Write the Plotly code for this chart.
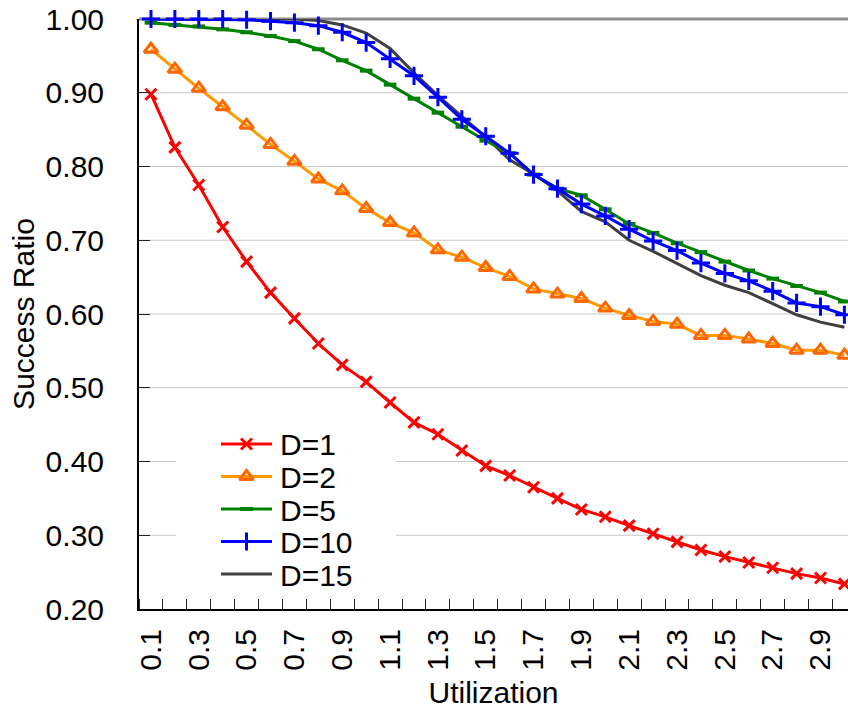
import plotly.graph_objects as go

# Utilization levels (x categories)
utilization = [0.1, 0.2, 0.3, 0.4, 0.5, 0.6, 0.7, 0.8, 0.9, 1.0,
               1.1, 1.2, 1.3, 1.4, 1.5, 1.6, 1.7, 1.8, 1.9, 2.0,
               2.1, 2.2, 2.3, 2.4, 2.5, 2.6, 2.7, 2.8, 2.9, 3.0]
x_tick_labels = ["0.1", "0.3", "0.5", "0.7", "0.9", "1.1", "1.3", "1.5",
                 "1.7", "1.9", "2.1", "2.3", "2.5", "2.7", "2.9"]
y_tick_values = [0.2, 0.3, 0.4, 0.5, 0.6, 0.7, 0.8, 0.9, 1.0]

# Success ratio for each D
ratio_d1 = [0.898, 0.826, 0.775, 0.718, 0.671, 0.629, 0.594, 0.560, 0.531, 0.508,
            0.480, 0.453, 0.437, 0.415, 0.394, 0.381, 0.365, 0.350, 0.335, 0.325,
            0.313, 0.302, 0.291, 0.280, 0.271, 0.263, 0.256, 0.248, 0.242, 0.234]
ratio_d2 = [0.959, 0.932, 0.906, 0.881, 0.856, 0.830, 0.807, 0.783, 0.767, 0.743,
            0.724, 0.710, 0.687, 0.677, 0.663, 0.651, 0.634, 0.627, 0.621, 0.608,
            0.598, 0.590, 0.586, 0.571, 0.571, 0.566, 0.560, 0.551, 0.551, 0.544]
ratio_d5 = [0.995, 0.992, 0.990, 0.986, 0.982, 0.977, 0.970, 0.959, 0.944, 0.930,
            0.911, 0.892, 0.873, 0.854, 0.835, 0.818, 0.789, 0.770, 0.761, 0.742,
            0.722, 0.710, 0.696, 0.684, 0.671, 0.659, 0.648, 0.638, 0.629, 0.617]
ratio_d10 = [1.000, 1.000, 1.000, 1.000, 0.999, 0.997, 0.995, 0.991, 0.982, 0.968,
             0.946, 0.923, 0.894, 0.864, 0.841, 0.818, 0.789, 0.770, 0.749, 0.733,
             0.715, 0.699, 0.686, 0.669, 0.655, 0.645, 0.631, 0.615, 0.610, 0.599]
ratio_d15 = [1.000, 1.000, 1.000, 1.000, 1.000, 1.000, 1.000, 0.998, 0.992, 0.981,
             0.960, 0.927, 0.896, 0.868, 0.840, 0.809, 0.790, 0.767, 0.739, 0.725,
             0.700, 0.685, 0.669, 0.652, 0.639, 0.629, 0.614, 0.599, 0.589, 0.582]

series_names = ["D=1", "D=2", "D=5", "D=10", "D=15"]
series_values = [ratio_d1, ratio_d2, ratio_d5, ratio_d10, ratio_d15]

FONT = "Liberation Sans, Arial, sans-serif"
styles = {
    "D=1": dict(line=dict(color="#FF0000", width=3),
                marker=dict(symbol="x-thin", size=11, color="#FF0000",
                            line=dict(color="#FF0000", width=3))),
    "D=2": dict(line=dict(color="#FF9900", width=3),
                marker=dict(symbol="triangle-up-open", size=12, color="#FF6600",
                            line=dict(color="#FF6600", width=3))),
    "D=5": dict(line=dict(color="#008000", width=3),
                marker=dict(symbol="line-ew", size=9, color="#008000",
                            line=dict(color="#008000", width=4))),
    "D=10": dict(line=dict(color="#0000FF", width=3),
                 marker=dict(symbol="cross-thin", size=13, color="#0000FF",
                             line=dict(color="#0000FF", width=3))),
    "D=15": dict(line=dict(color="#404040", width=3), marker=None),
}

# plot area in pixels (left, right, top, bottom)
PL, PR, PT, PB = 139, 848, 19, 609


def fx(px):
    """pixel x -> fraction of the plot area width"""
    return (px - PL) / (PR - PL)


def fy(py):
    """pixel y -> fraction of the plot area height (from bottom)"""
    return (PB - py) / (PB - PT)


fig = go.Figure()

# dark D=15 curve underneath, the marked series on top
draw_order = [4, 0, 1, 2, 3]
for i in draw_order:
    name = series_names[i]
    st = styles[name]
    kw = dict(x=utilization, y=series_values[i], name=name, showlegend=False,
              line=st["line"], cliponaxis=False)
    if st["marker"] is None:
        kw["mode"] = "lines"
    else:
        kw["mode"] = "lines+markers"
        kw["marker"] = st["marker"]
    fig.add_trace(go.Scatter(**kw))

# ---- horizontal grid (drawn as shapes so the legend box can mask it) ----
shapes = []
for v in y_tick_values[1:-1]:
    shapes.append(dict(type="line", xref="x domain", yref="y", x0=0, x1=1,
                       y0=v, y1=v, line=dict(color="#C8C8C8", width=1),
                       layer="below"))
# heavy top frame line at 1.00 (paper-referenced so it is not clipped)
shapes.append(dict(type="line", xref="paper", yref="paper", x0=0, x1=1,
                   y0=1.0, y1=1.0, line=dict(color="#8C8C8C", width=3),
                   layer="below"))

# ---- legend block ----
LEG_X0, LEG_X1 = 221, 272      # sample line extent
LEG_TEXT_X = 278
LEG_Y0, LEG_DY = 444, 32.5

shapes.append(dict(type="rect", xref="x domain", yref="y domain",
                   x0=fx(176), x1=fx(396), y0=fy(596), y1=fy(420),
                   fillcolor="white", line=dict(width=0), layer="below"))
annotations = []
for i, name in enumerate(series_names):
    yy = LEG_Y0 + LEG_DY * i
    st = styles[name]
    shapes.append(dict(type="line", xref="x domain", yref="y domain",
                       x0=fx(LEG_X0), x1=fx(LEG_X1), y0=fy(yy), y1=fy(yy),
                       line=st["line"], layer="below"))
    annotations.append(dict(xref="x domain", yref="y domain", x=fx(LEG_TEXT_X),
                            y=fy(yy + 1), text=name, showarrow=False,
                            xanchor="left", yanchor="middle",
                            font=dict(family=FONT, size=30, color="black")))
    if st["marker"] is not None:
        fig.add_trace(go.Scatter(x=[(LEG_X0 + LEG_X1) / 2], y=[yy], mode="markers",
                                 marker=st["marker"], xaxis="x2", yaxis="y2",
                                 showlegend=False, hoverinfo="skip"))

fig.update_layout(
    width=848, height=712,
    margin=dict(l=PL, r=848 - PR, t=PT, b=712 - PB),
    paper_bgcolor="white", plot_bgcolor="rgba(0,0,0,0)",
    font=dict(family=FONT, size=30, color="black"),
    showlegend=False,
    shapes=shapes,
    annotations=annotations,
    xaxis=dict(
        range=[0.05, 3.015],
        tickmode="array",
        tickvals=[float(t) for t in x_tick_labels],
        ticktext=x_tick_labels,
        tickangle=-90,
        ticks="",
        ticklabelstandoff=6,
        showgrid=False,
        showline=True, linecolor="black", linewidth=2,
        minor=dict(tick0=0.05, dtick=0.1, ticks="inside", ticklen=10,
                   tickcolor="#222222", tickwidth=1, showgrid=False),
        title=dict(text="Utilization", standoff=12,
                   font=dict(family=FONT, size=30)),
        tickfont=dict(family=FONT, size=30),
        zeroline=False,
    ),
    yaxis=dict(
        range=[0.2, 1.0],
        tickmode="array",
        tickvals=y_tick_values,
        tickformat=".2f",
        ticks="inside", ticklen=11, tickcolor="#222222", tickwidth=1,
        ticklabelstandoff=27,
        showgrid=False,
        showline=True, linecolor="black", linewidth=2,
        title=dict(text="Success Ratio", standoff=2,
                   font=dict(family=FONT, size=30)),
        tickfont=dict(family=FONT, size=30),
        zeroline=False,
    ),
    xaxis2=dict(overlaying="x", range=[PL, PR], visible=False),
    yaxis2=dict(overlaying="y", range=[PB, PT], visible=False),
)

fig.write_html("out.html")
